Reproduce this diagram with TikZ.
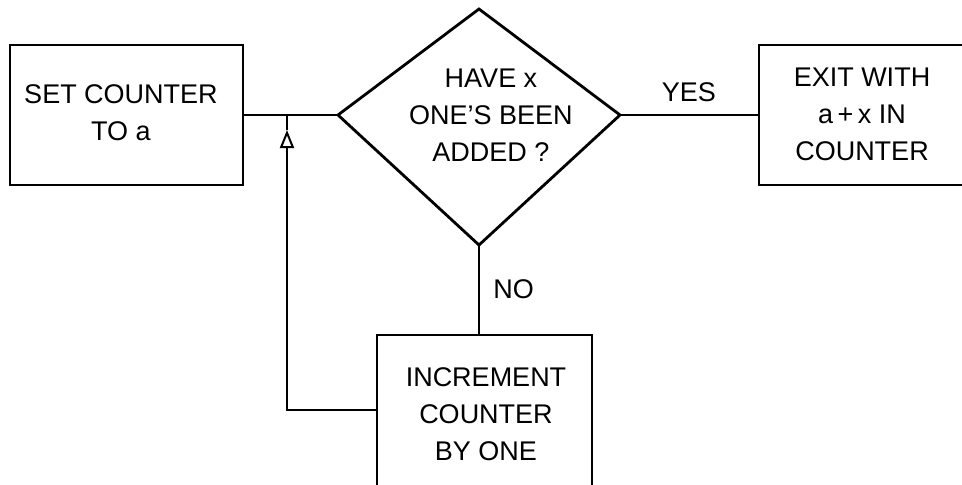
\documentclass[tikz,border=0pt]{standalone}
\usepackage{fontspec}
\setmainfont{Liberation Sans}
\usetikzlibrary{arrows.meta}
\tikzset{
  box/.style={draw,inner sep=0pt},
  lbl/.style={font=\fontsize{27}{37}\selectfont,align=center,inner sep=0pt},
  uparrow/.style={-{Triangle[open,width=14pt,length=18pt,line width=2pt]}}
}
\begin{document}
\begin{tikzpicture}[x=1pt,y=-1pt,line width=2.8pt]
  \clip (0,0) rectangle (962,485);
  \node[box,minimum width=233pt,minimum height=140pt] (set) at (126.5,115) {};
  \node[lbl] (settext) at (121,113) {SET COUNTER\\TO a};
  \node[box,minimum width=251pt,minimum height=140pt] (exit) at (884.5,115) {};
  \node[lbl] (exittext) at (862,114) {EXIT WITH\\a\,+\,x IN\\COUNTER};
  \node[box,minimum width=215pt,minimum height=195pt] (incr) at (484.5,432.5) {};
  \node[lbl] (incrtext) at (486,414) {INCREMENT\\COUNTER\\BY ONE};
  \coordinate (top) at (479,9); \coordinate (left) at (338,115);
  \coordinate (right) at (620,115); \coordinate (bot) at (479,245);
  \draw (left)--(top)--(right)--(bot)--cycle;
  \node[lbl] (ask) at (491,115) {HAVE x\\ONE'S BEEN\\ADDED ?};
  \coordinate (join) at (287,115); \coordinate (tip) at (287,130);
  \coordinate (bend) at (287,410);
  \draw (set.east) -- (left);
  \draw (right) -- node[lbl,above=12pt] (yes) {YES} (exit.west);
  \draw (bot) -- node[lbl,right=13pt] (no) {NO} (bot |- incr.north);
  \draw[uparrow] (incr.west |- bend) -- (bend) -- (tip);
  \draw (tip) -- (join);
\end{tikzpicture}
\end{document}
